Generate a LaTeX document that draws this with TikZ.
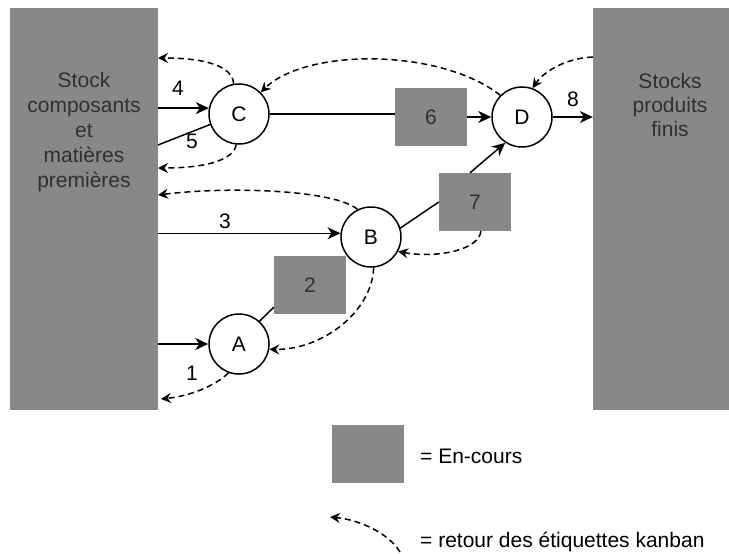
\documentclass[tikz,border=0pt]{standalone}
\usepackage{fontspec}
\setmainfont{Liberation Sans}
\usetikzlibrary{arrows.meta}
\definecolor{wipgray}{RGB}{136,136,136}
\definecolor{inkgray}{RGB}{48,48,48}
\begin{document}
\begin{tikzpicture}[x=1pt,y=-1pt,
  font=\fontsize{21}{25}\selectfont,
  stockblock/.style={fill=wipgray, inner sep=0pt},
  stocktext/.style={align=center, text=inkgray, inner sep=0pt},
  wip/.style={fill=wipgray, minimum width=72pt, minimum height=58pt, inner sep=0pt, text=inkgray},
  post/.style={circle, draw, line width=1.5pt, fill=white, minimum size=60pt, inner sep=0pt},
  flow/.style={line width=1.5pt, -{Stealth[length=13pt,width=12pt,inset=4pt]}},
  link/.style={line width=1.5pt},
  kanban/.style={line width=1.5pt, dash pattern=on 6pt off 4pt, -{Stealth[length=10pt,width=10pt,inset=3.5pt]}},
  lbl/.style={inner sep=0pt}]
\useasboundingbox (0,0) rectangle (729,554);

% stocks on both sides
\node[stockblock, minimum width=148pt, minimum height=402pt] (L) at (84,209) {};
\node[stockblock, minimum width=136pt, minimum height=402pt] (R) at (661,209) {};
\node[stocktext] (Ltext) at (84,132) {Stock\\composants\\et\\matières\\premières};
\node[stocktext, font=\fontsize{21}{24}\selectfont] (Rtext) at (670,105) {Stocks\\produits\\finis};

% work in progress
\node[wip] (w6) at (431,117) {6};
\node[wip] (w7) at (475,202) {7};
\node[wip] (w2) at (310,285) {2};

% workstations
\node[post] (C) at (239,114) {C};
\node[post] (D) at (522,117) {D};
\node[post] (B) at (371,237) {B};
\node[post] (A) at (239,344) {A};

% free ends on the stock edges
\coordinate (l5) at (158,145);
\coordinate (lC1) at (158,58);
\coordinate (lC2) at (158,168);
\coordinate (lB) at (158,195);
\coordinate (lA) at (161,399);
\coordinate (rD) at (593,57);

% material flow
\draw[flow] (L.east |- C.169) -- (C.169);
\draw[link] (l5) -- (C.200);
\draw[link] (C.east) -- (C.east -| w6.west);
\draw[flow] (w6.east |- D.west) -- (D.west);
\draw[flow] (D.east) -- (D.east -| R.west);
\draw[flow] ([xshift=-5pt]w7.north) -- (D.237);
\draw[link] (B.17) -- (w7.west);
\draw[flow] (L.east |- B.173) -- (B.173);
\draw[link] (A.48) -- ([yshift=7pt]w2.south west);
\draw[flow] (L.east |- A.west) -- (A.west);

% kanban return
\draw[kanban] (C.100) .. controls (232,60) and (185,58) .. (lC1);
\draw[kanban] (C.265) .. controls (232,166) and (185,168) .. (lC2);
\draw[kanban] (D.135) .. controls (440,48) and (306,48) .. (C.45);
\draw[kanban] (rD) .. controls (568,58) and (545,70) .. (D.70);
\draw[kanban] ([xshift=6pt]w7.south) .. controls (478,252) and (432,258) .. (B.-28);
\draw[kanban] (B.116) .. controls (335,190) and (230,186) .. (lB);
\draw[kanban] (B.-85) .. controls (372,312) and (322,350) .. (A.-10);
\draw[kanban] (A.250) .. controls (215,386) and (190,396) .. (lA);

% flow numbers
\node[lbl] (n4) at (178,88) {4};
\node[lbl] (n5) at (192,141) {5};
\node[lbl] (n3) at (225,221) {3};
\node[lbl] (n8) at (573,99) {8};
\node[lbl] (n1) at (192,373) {1};

% legend
\node[wip] (kw) at (368,454) {};
\node[lbl, anchor=west] (kwt) at (420,456) {= En-cours};
\coordinate (k1) at (400,552);
\coordinate (k2) at (330,517);
\draw[kanban] (k1) .. controls (390,535) and (362,520) .. (k2);
\node[lbl, anchor=west] (kkt) at (420,542) {= retour des étiquettes kanban};
\end{tikzpicture}
\end{document}
